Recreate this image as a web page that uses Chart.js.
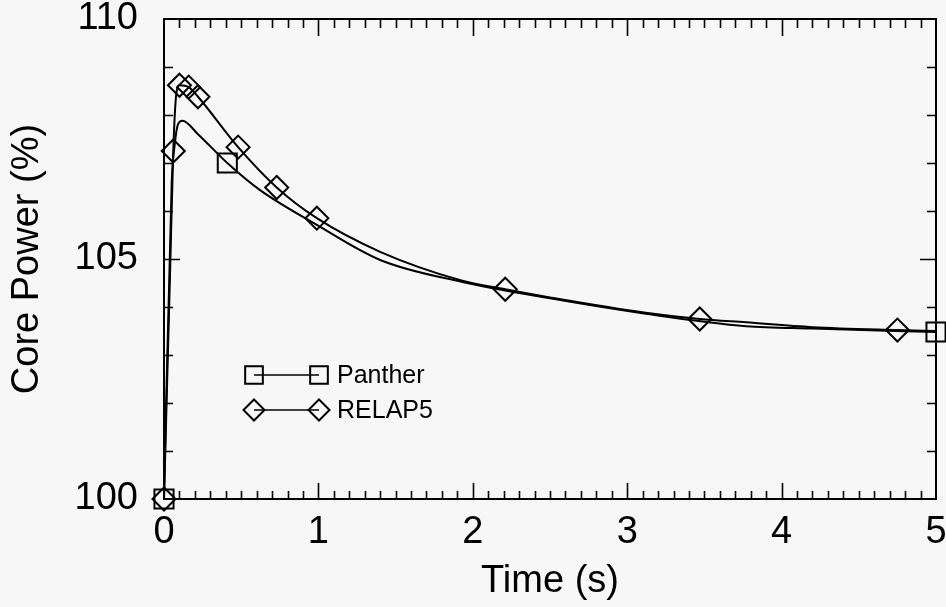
<!DOCTYPE html>
<html>
<head>
<meta charset="utf-8">
<script src="https://cdn.jsdelivr.net/npm/chart.js@4/dist/chart.umd.min.js"></script>
<style>
  html, body { margin: 0; padding: 0; background: #f7f7f7; }
  #wrap { width: 946px; height: 607px; position: relative; }
</style>
</head>
<body>
<div id="wrap"><canvas id="c" width="946" height="607"></canvas></div>
<script>
// ---- Data ----
const pantherTime  = [0, 0.05, 0.07, 0.09, 0.12, 0.22, 0.41, 0.62, 0.99, 1.4, 1.92, 2.5, 3.12, 3.77, 4.2, 5.0];
const pantherPower = [100, 106.6, 107.4, 107.8, 107.88, 107.6, 107.0, 106.44, 105.71, 104.98, 104.53, 104.18, 103.86, 103.6, 103.55, 103.48];

const relapTime  = [0, 0.04, 0.06, 0.08, 0.10, 0.16, 0.22, 0.48, 0.73, 0.99, 1.4, 1.92, 2.21, 2.5, 3.12, 3.47, 3.77, 4.2, 4.75, 5.0];
const relapPower = [100, 104.8, 107.25, 108.45, 108.62, 108.58, 108.38, 107.33, 106.49, 105.85, 105.15, 104.56, 104.37, 104.2, 103.88, 103.75, 103.68, 103.58, 103.52, 103.5];

const pantherMarkTime  = [0, 0.41, 5.0];
const pantherMarkPower = [100, 107.0, 103.48];

const relapMarkTime  = [0, 0.06, 0.10, 0.16, 0.22, 0.48, 0.73, 0.99, 2.21, 3.47, 4.75];
const relapMarkPower = [100, 107.25, 108.62, 108.58, 108.38, 107.33, 106.49, 105.85, 104.37, 103.75, 103.52];

const xTickLabels = [0, 1, 2, 3, 4, 5];
const yTickLabels = [100, 105, 110];
const seriesNames = ['Panther', 'RELAP5'];

// ---- Build datasets ----
const toXY = (xs, ys) => xs.map((x, i) => ({x: x, y: ys[i]}));
const FONT = "'Liberation Sans', Arial, Helvetica, sans-serif";

const lineBase = {
  showLine: true, pointRadius: 0, borderColor: '#000', borderWidth: 2,
  cubicInterpolationMode: 'monotone', fill: false
};
const markBase = {
  showLine: false, borderColor: '#000', backgroundColor: 'rgba(0,0,0,0)',
  pointBorderWidth: 2, clip: false
};

const datasets = [
  Object.assign({}, lineBase, {label: seriesNames[0] + ' line', data: toXY(pantherTime, pantherPower)}),
  Object.assign({}, lineBase, {label: seriesNames[1] + ' line', data: toXY(relapTime, relapPower)}),
  Object.assign({}, markBase, {label: seriesNames[0], data: toXY(pantherMarkTime, pantherMarkPower), pointStyle: 'rect', pointRadius: 13.5}),
  Object.assign({}, markBase, {label: seriesNames[1], data: toXY(relapMarkTime, relapMarkPower), pointStyle: 'rectRot', pointRadius: 11.5})
];

// ---- Frame, inward ticks, legend ----
const framePlugin = {
  id: 'frame',
  afterDatasetsDraw(chart) {
    const {ctx, chartArea: a, scales: {x, y}} = chart;
    ctx.save();
    ctx.strokeStyle = '#000';
    ctx.lineWidth = 2;
    ctx.strokeRect(a.left, a.top, a.right - a.left, a.bottom - a.top);
    ctx.lineWidth = 1.6;
    ctx.beginPath();
    // x ticks (minor 0.1, major 1)
    for (let i = 1; i < 50; i++) {
      const v = i / 10;
      const px = Math.round(x.getPixelForValue(v)) + 0.5;
      const len = (i % 10 === 0) ? 16 : 8;
      ctx.moveTo(px, a.bottom); ctx.lineTo(px, a.bottom - len);
      ctx.moveTo(px, a.top); ctx.lineTo(px, a.top + len + 1);
    }
    // y ticks (minor 1, major 5)
    for (let v = 101; v < 110; v++) {
      const py = Math.round(y.getPixelForValue(v)) + 0.5;
      const len = (v % 5 === 0) ? 16 : 9;
      ctx.moveTo(a.left, py); ctx.lineTo(a.left + len, py);
      ctx.moveTo(a.right, py); ctx.lineTo(a.right - len, py);
    }
    ctx.stroke();

    // legend
    const rows = [
      {name: seriesNames[0], style: 'rect', r: 12.5},
      {name: seriesNames[1], style: 'rectRot', r: 10.5}
    ];
    const x1 = a.left + 90, x2 = a.left + 155, tx = a.left + 173;
    rows.forEach((row, i) => {
      const ly = a.top + 356 + i * 35;
      ctx.lineWidth = 1.5;
      ctx.beginPath();
      ctx.moveTo(x1, ly); ctx.lineTo(x2, ly);
      ctx.stroke();
      ctx.lineWidth = 2;
      ctx.fillStyle = 'rgba(0,0,0,0)';
      [x1, x2].forEach(px => {
        Chart.helpers.drawPoint(ctx, {pointStyle: row.style, radius: row.r, borderWidth: 2, rotation: 0}, px, ly);
      });
      ctx.fillStyle = '#000';
      ctx.font = '25px ' + FONT;
      ctx.textAlign = 'left';
      ctx.textBaseline = 'middle';
      ctx.fillText(row.name, tx, ly + 1);
    });
    ctx.restore();
  }
};

const noPad = () => ({left: 0, top: 0, right: 0, bottom: 0});

new Chart(document.getElementById('c'), {
  type: 'scatter',
  data: {datasets},
  plugins: [framePlugin],
  options: {
    responsive: false,
    animation: false,
    events: [],
    layout: {autoPadding: false, padding: {left: 0, right: 10, top: 19, bottom: 0}},
    plugins: {legend: {display: false}, tooltip: {enabled: false}},
    scales: {
      x: {
        type: 'linear', min: 0, max: 5,
        afterBuildTicks: s => { s.ticks = xTickLabels.map(v => ({value: v})); },
        ticks: {color: '#000', font: {family: FONT, size: 38}, padding: 11, maxRotation: 0, autoSkip: false},
        grid: {display: false, drawTicks: false},
        border: {display: false},
        title: {display: true, text: 'Time (s)', color: '#000', font: {family: FONT, size: 38}, padding: {top: 0, bottom: 3}},
        afterFit: s => { s.height = 108; s.paddingLeft = 0; s.paddingRight = 0; s.getPadding = noPad; }
      },
      y: {
        type: 'linear', min: 100, max: 110,
        afterBuildTicks: s => { s.ticks = yTickLabels.map(v => ({value: v})); },
        ticks: {color: '#000', font: {family: FONT, size: 38}, padding: 26, autoSkip: false},
        grid: {display: false, drawTicks: false},
        border: {display: false},
        title: {display: true, text: 'Core Power (%)', color: '#000', font: {family: FONT, size: 38}, padding: {top: 5, bottom: 0}},
        afterFit: s => { s.width = 164; s.paddingTop = 0; s.paddingBottom = 0; s.getPadding = noPad; }
      }
    }
  }
});
</script>
</body>
</html>
